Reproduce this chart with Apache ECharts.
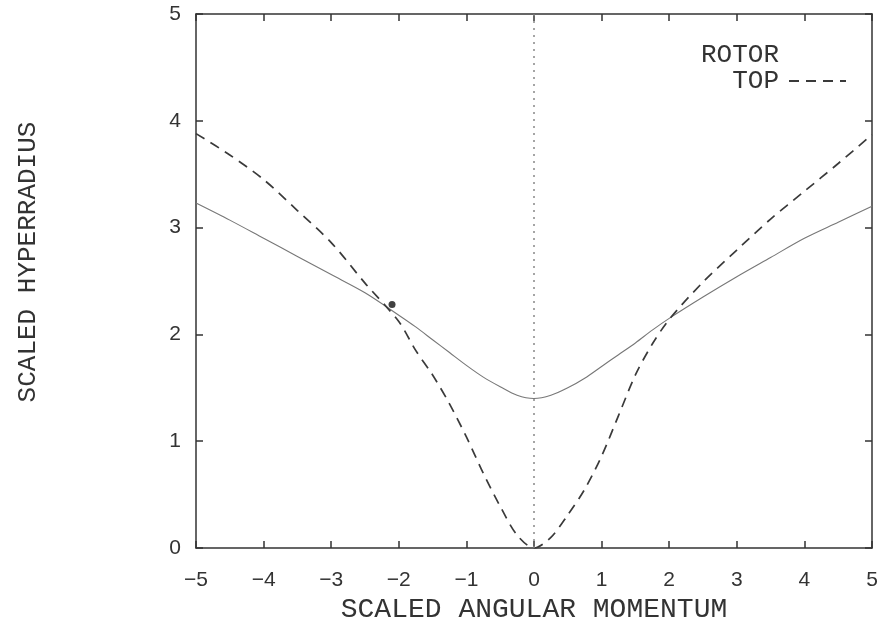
<!DOCTYPE html>
<html>
<head>
<meta charset="utf-8">
<script src="https://cdn.jsdelivr.net/npm/echarts@6/dist/echarts.min.js"></script>
<style>
html,body{margin:0;padding:0;background:#fff;}
#chart{width:893px;height:623px;}
</style>
</head>
<body>
<div id="chart"></div>
<script>
// Scaled angular momentum sample points
const momentumL = [-5, -4.5, -4, -3.5, -3, -2.5, -2, -1.75, -1.5, -1.25, -1, -0.75, -0.5, -0.25, 0,
                   0.25, 0.5, 0.75, 1, 1.25, 1.5, 1.75, 2, 2.5, 3, 3.5, 4, 4.5, 5];
// ROTOR (solid) hyperradius
const rotorR = [3.23, 3.07, 2.90, 2.73, 2.56, 2.39, 2.18, 2.07, 1.95, 1.83, 1.71, 1.60, 1.51, 1.43, 1.40,
                1.43, 1.50, 1.59, 1.70, 1.81, 1.92, 2.04, 2.15, 2.35, 2.54, 2.72, 2.90, 3.05, 3.20];
// TOP (dashed) hyperradius
const topR = [3.88, 3.68, 3.45, 3.16, 2.86, 2.48, 2.12, 1.85, 1.62, 1.35, 1.04, 0.70, 0.39, 0.12, 0.0,
              0.10, 0.31, 0.55, 0.86, 1.24, 1.62, 1.91, 2.14, 2.49, 2.79, 3.08, 3.34, 3.60, 3.87];
// isolated marked point
const markedPoint = [[-2.10, 2.28]];
const xTicks = [-5, -4, -3, -2, -1, 0, 1, 2, 3, 4, 5];
const yTicks = [0, 1, 2, 3, 4, 5];
const seriesNames = ['ROTOR', 'TOP'];

const pair = (xs, ys) => xs.map((x, i) => [x, ys[i]]);
const fmtTick = v => (v < 0 ? '\u2212' + Math.abs(v) : String(v));

const monoFont = '"Liberation Mono", "DejaVu Sans Mono", monospace';
const tickFont = '"Liberation Sans", Arial, sans-serif';
const axisColor = '#333';

const chart = echarts.init(document.getElementById('chart'));
chart.setOption({
  animation: false,
  backgroundColor: '#fff',
  grid: { left: 196, right: 21, top: 14, bottom: 75, containLabel: false, outerBoundsMode: 'none' },
  legend: [
    {
      data: [{ name: seriesNames[0], lineStyle: { opacity: 0 }, itemStyle: { opacity: 0 } }],
      orient: 'vertical', align: 'right', right: 46, top: 42, padding: 0,
      itemWidth: 57, itemHeight: 14, selectedMode: false,
      textStyle: { fontFamily: monoFont, fontSize: 26, color: '#333', lineHeight: 26, padding: [0, 5, 0, 0] }
    },
    {
      data: [{ name: seriesNames[1], itemStyle: { opacity: 0 } }],
      orient: 'vertical', align: 'right', right: 46, top: 68, padding: 0,
      itemWidth: 57, itemHeight: 14, selectedMode: false,
      textStyle: { fontFamily: monoFont, fontSize: 26, color: '#333', lineHeight: 26, padding: [0, 5, 0, 0] }
    }
  ],
  xAxis: [
    {
      type: 'value', min: xTicks[0], max: xTicks[xTicks.length - 1], interval: 1,
      name: 'SCALED ANGULAR MOMENTUM', nameLocation: 'middle', nameGap: 43,
      nameTextStyle: { fontFamily: monoFont, fontSize: 28, color: '#333' },
      axisLine: { show: true, onZero: false, lineStyle: { color: axisColor, width: 1.5 } },
      axisTick: { show: true, inside: true, length: 7, lineStyle: { color: axisColor, width: 1.5 } },
      axisLabel: { formatter: fmtTick, fontFamily: tickFont, fontSize: 21, color: '#333', margin: 22 },
      splitLine: { show: false }
    },
    {
      type: 'value', position: 'top', min: xTicks[0], max: xTicks[xTicks.length - 1], interval: 1,
      axisLine: { show: true, onZero: false, lineStyle: { color: axisColor, width: 1.5 } },
      axisTick: { show: true, inside: true, length: 7, lineStyle: { color: axisColor, width: 1.5 } },
      axisLabel: { show: false }, splitLine: { show: false }
    }
  ],
  yAxis: [
    {
      type: 'value', min: yTicks[0], max: yTicks[yTicks.length - 1], interval: 1,
      name: 'SCALED HYPERRADIUS', nameLocation: 'middle', nameGap: 155,
      nameTextStyle: { fontFamily: monoFont, fontSize: 26, color: '#333', padding: [0, 0, 0, 38] },
      axisLine: { show: true, onZero: false, lineStyle: { color: axisColor, width: 1.5 } },
      axisTick: { show: true, inside: true, length: 7, lineStyle: { color: axisColor, width: 1.5 } },
      axisLabel: { formatter: fmtTick, fontFamily: tickFont, fontSize: 21, color: '#333', margin: 15 },
      splitLine: { show: false }
    },
    {
      type: 'value', position: 'right', min: yTicks[0], max: yTicks[yTicks.length - 1], interval: 1,
      axisLine: { show: true, onZero: false, lineStyle: { color: axisColor, width: 1.5 } },
      axisTick: { show: true, inside: true, length: 7, lineStyle: { color: axisColor, width: 1.5 } },
      axisLabel: { show: false }, splitLine: { show: false }
    }
  ],
  series: [
    {
      name: seriesNames[0], type: 'line', data: pair(momentumL, rotorR),
      smooth: 0.3, symbol: 'none', color: '#777',
      lineStyle: { color: '#777', width: 1.1 },
      markLine: {
        silent: true, symbol: 'none', label: { show: false },
        lineStyle: { color: '#888', type: [2, 5], width: 1.5 },
        data: [{ xAxis: 0 }]
      }
    },
    {
      name: seriesNames[1], type: 'line', data: pair(momentumL, topR),
      smooth: 0.3, symbol: 'none', color: '#3a3a3a',
      lineStyle: { color: '#3a3a3a', width: 1.7, type: [10, 7] }
    },
    {
      name: 'point', type: 'scatter', data: markedPoint,
      symbolSize: 7, itemStyle: { color: '#111' }
    }
  ]
});
</script>
</body>
</html>
